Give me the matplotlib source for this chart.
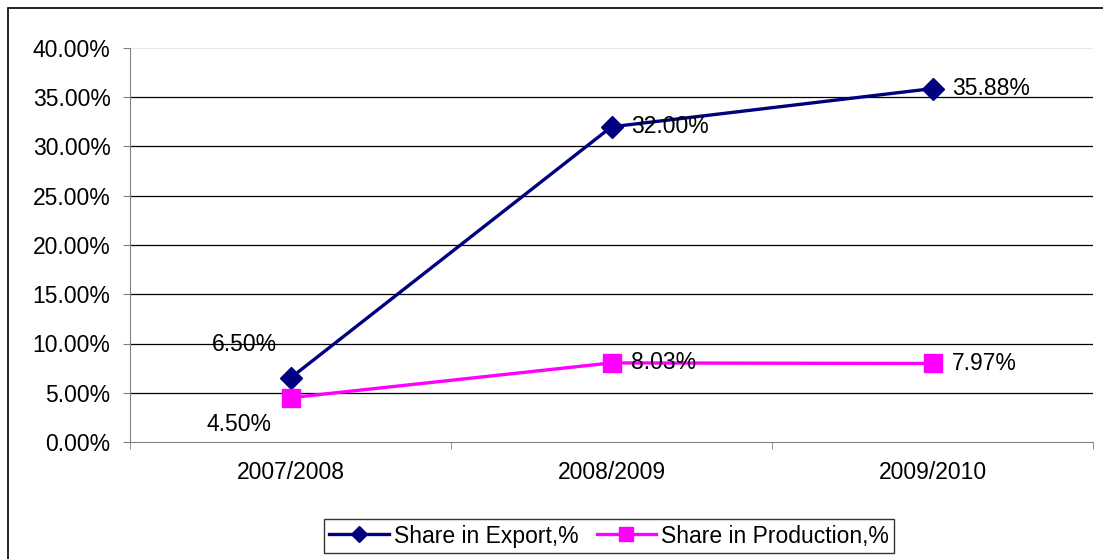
import matplotlib.pyplot as plt
from matplotlib.patches import Rectangle
from matplotlib.ticker import FuncFormatter, FixedLocator

years = ["2007/2008", "2008/2009", "2009/2010"]
export_share = [6.50, 32.00, 35.88]
production_share = [4.50, 8.03, 7.97]

plt.rcParams['font.family'] = ['Liberation Sans', 'DejaVu Sans']
FS = 16.5

fig = plt.figure(figsize=(11.03, 5.59), dpi=100)
fig.patches.append(Rectangle((8 / 1103, -0.1), 1.2, 1 - 8 / 559 + 0.1,
                             transform=fig.transFigure, fill=False,
                             edgecolor='black', linewidth=1.2))

ax = fig.add_axes([130 / 1103, 1 - 442 / 559, 963 / 1103, 394 / 559])
x = list(range(len(years)))

ax.plot(x, export_share, color='#000080', linewidth=2.4, marker='D',
        markersize=11, label='Share in Export,%', zorder=3)
ax.plot(x, production_share, color='#FF00FF', linewidth=2.4, marker='s',
        markersize=13, label='Share in Production,%', zorder=3)

ax.set_xlim(-0.5, len(years) - 0.5)
ax.set_ylim(0, 40)
ax.yaxis.set_major_locator(FixedLocator([0, 5, 10, 15, 20, 25, 30, 35, 40]))
ax.yaxis.set_major_formatter(FuncFormatter(lambda v, p: f"{v:.2f}%"))
ax.set_xticks(x)
ax.set_xticklabels(years)
ax.set_xticks([-0.5, 0.5, 1.5, 2.5], minor=True)
ax.tick_params(axis='x', which='major', length=0, labelsize=FS, pad=14)
ax.tick_params(axis='x', which='minor', length=5, color='#808080')
ax.tick_params(axis='y', length=5, color='#808080', labelsize=FS, pad=9)

for v in [5, 10, 15, 20, 25, 30, 35]:
    ax.axhline(v, color='black', linewidth=0.9, zorder=1)
ax.axhline(40, color='#e8e8e8', linewidth=0.9, zorder=1)

for s in ['top', 'right']:
    ax.spines[s].set_visible(False)
ax.spines['left'].set_color('#808080')
ax.spines['bottom'].set_color('#808080')

# data labels
ax.annotate(f"{export_share[0]:.2f}%", (x[0], export_share[0]), xytext=(-33, 24),
            textcoords='offset points', ha='center', va='center', fontsize=FS)
ax.annotate(f"{production_share[0]:.2f}%", (x[0], production_share[0]), xytext=(-37, -19),
            textcoords='offset points', ha='center', va='center', fontsize=FS)
for i in [1, 2]:
    ax.annotate(f"{export_share[i]:.2f}%", (x[i], export_share[i]), xytext=(14, 0),
                textcoords='offset points', ha='left', va='center', fontsize=FS, zorder=4)
    ax.annotate(f"{production_share[i]:.2f}%", (x[i], production_share[i]), xytext=(14, 0),
                textcoords='offset points', ha='left', va='center', fontsize=FS, zorder=4)

fig.legend(loc='center', bbox_to_anchor=(609 / 1103, 1 - 536 / 559), ncol=2,
           fontsize=FS, frameon=True, fancybox=False, edgecolor='black',
           handlelength=2.6, handletextpad=0.2, columnspacing=0.8,
           borderpad=0.25, markerscale=0.75)

fig.savefig("out.png", dpi=100)
